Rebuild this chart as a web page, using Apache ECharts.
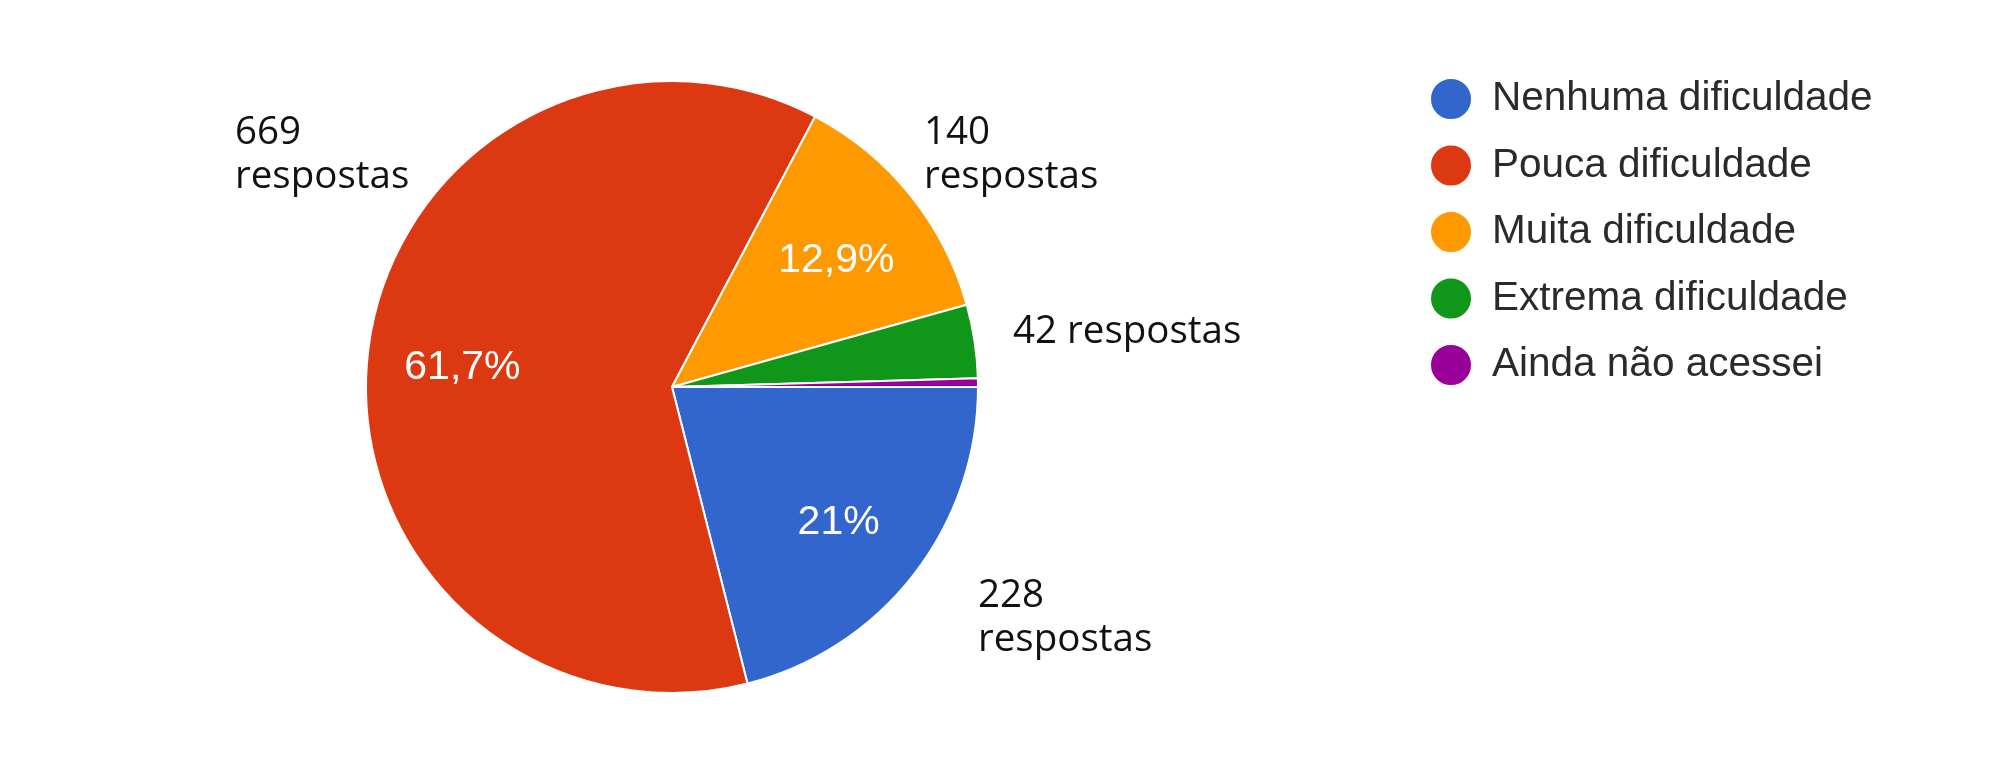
<!DOCTYPE html>
<html>
<head>
<meta charset="utf-8">
<script src="https://cdn.jsdelivr.net/npm/echarts@6/dist/echarts.min.js"></script>
<style>
html,body{margin:0;padding:0;background:#fff;}
#chart{width:1991px;height:773px;}
</style>
</head>
<body>
<div id="chart"></div>
<script>
// ---- data ----
const categories = ['Nenhuma dificuldade', 'Pouca dificuldade', 'Muita dificuldade', 'Extrema dificuldade', 'Ainda não acessei'];
const counts = [228, 669, 140, 42, 5];
const colors = ['#3366cc', '#dc3912', '#ff9900', '#109618', '#990099'];
const unitLabel = 'respostas';

// ---- layout (not data) ----
const center = [672, 387];
const R = 306;
const outerLabelPos = { 0: [978, 574], 1: [235, 111], 2: [924, 111], 3: [1013, 310] };
const singleLine = { 3: true };

const total = counts.reduce((a, b) => a + b, 0);
function pctText(v) {
  let s = (v / total * 100).toFixed(1).replace('.', ',');
  if (s.endsWith(',0')) s = s.slice(0, -2);
  return s + '%';
}

const mainData = categories.map((name, i) => ({
  name, value: counts[i],
  itemStyle: { color: colors[i] },
  label: { show: outerLabelPos[i] !== undefined }
}));
const pctData = categories.map((name, i) => ({ name, value: counts[i] }));

const chart = echarts.init(document.getElementById('chart'), null, { renderer: 'canvas' });
chart.setOption({
  animation: false,
  backgroundColor: '#ffffff',
  legend: {
    orient: 'vertical',
    left: 1424,
    top: 72,
    icon: 'circle',
    itemWidth: 42,
    itemHeight: 42,
    itemGap: 22.5,
    data: categories.map((name, i) => ({ name, itemStyle: { color: colors[i] } })),
    textStyle: {
      fontFamily: 'Liberation Sans, Arial, sans-serif',
      fontSize: 40.5,
      color: '#2a2a2a',
      lineHeight: 42,
      padding: [0, 0, 0, 15]
    }
  },
  series: [
    {
      type: 'pie',
      center: center,
      radius: [0, R],
      startAngle: 0,
      clockwise: true,
      avoidLabelOverlap: false,
      itemStyle: { borderColor: '#ffffff', borderWidth: 2 },
      emphasis: { disabled: true },
      label: {
        position: 'outside',
        fontFamily: 'Open Sans, sans-serif',
        fontSize: 38.5,
        lineHeight: 44,
        color: '#111',
        formatter: p => p.value + (singleLine[p.dataIndex] ? ' ' : '\n') + unitLabel
      },
      labelLine: { show: false },
      labelLayout: function (params) {
        const pos = outerLabelPos[params.dataIndex];
        if (!pos) return {};
        return { x: pos[0], y: pos[1], align: 'left', verticalAlign: 'top', hideOverlap: false };
      },
      data: mainData
    },
    {
      type: 'pie',
      center: center,
      radius: [0, R * 1.36],
      startAngle: 0,
      clockwise: true,
      silent: true,
      avoidLabelOverlap: false,
      legendHoverLink: false,
      itemStyle: { color: 'rgba(0,0,0,0)', borderWidth: 0 },
      emphasis: { disabled: true },
      label: {
        position: 'inside',
        fontFamily: 'Liberation Sans, Arial, sans-serif',
        fontSize: 41,
        color: '#ffffff',
        offset: [0, 6],
        formatter: p => (p.value / total >= 0.05 ? pctText(p.value) : '')
      },
      labelLine: { show: false },
      data: pctData
    }
  ]
});
</script>
</body>
</html>
